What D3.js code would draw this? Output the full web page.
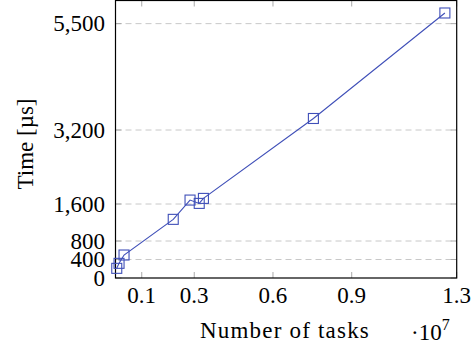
<!DOCTYPE html>
<html>
<head>
<meta charset="utf-8">
<script src="https://cdn.jsdelivr.net/npm/d3@7"></script>
<style>
  body { margin: 0; background: #fff; }
  text { font-family: "Liberation Serif", "DejaVu Serif", serif; fill: #000; }
</style>
</head>
<body>
<div class="container"></div>
<script>
// measured values (tasks, time in µs)
const tasks = [48000, 135000, 325000, 2200000, 2840000, 3190000, 3350000, 7540000, 12550000];
const times = [209, 317, 497, 1268, 1685, 1613, 1721, 3449, 5730];
const xTicks = [1000000, 3000000, 6000000, 9000000, 13000000];
const yTicks = [0, 400, 800, 1600, 3200, 5500];

const width = 473;
const height = 352;
const plotLeft = 115.5, plotRight = 456.7, plotTop = 0.5, plotBottom = 278;

const svg = d3.select('.container').append('svg').attr('width', width).attr('height', height);

const x = d3.scaleLinear().domain([0, 13000000]).range([plotLeft, plotRight]);
const y = d3.scaleLinear().domain([0, 6000]).range([plotBottom, plotTop]);

// dashed grid
svg.append('g').selectAll('line').data(yTicks.filter(d => d > 0)).enter().append('line')
    .attr('x1', plotLeft).attr('x2', plotRight)
    .attr('y1', d => y(d)).attr('y2', d => y(d))
    .attr('stroke', '#c8c8c8').attr('stroke-width', 1).attr('stroke-dasharray', '6,4');

// inner ticks on all sides
const tickLen = 6;
svg.append('g').selectAll('line').data(xTicks).enter().append('line')
    .attr('x1', d => x(d)).attr('x2', d => x(d)).attr('y1', plotBottom).attr('y2', plotBottom - tickLen)
    .attr('stroke', '#aaa').attr('stroke-width', 1);
svg.append('g').selectAll('line').data(xTicks).enter().append('line')
    .attr('x1', d => x(d)).attr('x2', d => x(d)).attr('y1', plotTop).attr('y2', plotTop + tickLen)
    .attr('stroke', '#aaa').attr('stroke-width', 1);
svg.append('g').selectAll('line').data(yTicks).enter().append('line')
    .attr('x1', plotLeft).attr('x2', plotLeft + tickLen).attr('y1', d => y(d)).attr('y2', d => y(d))
    .attr('stroke', '#aaa').attr('stroke-width', 1);
svg.append('g').selectAll('line').data(yTicks).enter().append('line')
    .attr('x1', plotRight).attr('x2', plotRight - tickLen).attr('y1', d => y(d)).attr('y2', d => y(d))
    .attr('stroke', '#aaa').attr('stroke-width', 1);

// frame
svg.append('rect').attr('x', plotLeft).attr('y', plotTop).attr('width', plotRight - plotLeft).attr('height', plotBottom - plotTop)
    .attr('fill', 'none').attr('stroke', '#000').attr('stroke-width', 1.2);

// tick labels
const fmtX = d => d3.format('.1f')(d / 1e7);
svg.append('g').selectAll('text').data(xTicks).enter().append('text')
    .attr('x', d => x(d)).attr('y', 302.5)
    .attr('text-anchor', 'middle').attr('font-size', 23)
    .text(fmtX);
svg.append('g').selectAll('text').data(yTicks).enter().append('text')
    .attr('x', plotLeft - 10.5).attr('y', d => y(d)).attr('dy', '0.33em')
    .attr('text-anchor', 'end').attr('font-size', 23)
    .text(d => d3.format(',')(d));

// axis labels
svg.append('text').attr('x', 285).attr('y', 338).attr('text-anchor', 'middle')
    .attr('font-size', 23).attr('letter-spacing', 1.2).text('Number of tasks');
const ex = svg.append('text').attr('x', 411).attr('y', 340).attr('font-size', 23);
ex.append('tspan').text('·10');
ex.append('tspan').attr('dy', -10).attr('font-size', 16).text('7');
svg.append('text').attr('transform', 'translate(33,144) rotate(-90)')
    .attr('text-anchor', 'middle').attr('font-size', 23).text('Time [µs]');

// series
const pts = tasks.map((t, i) => [t, times[i]]);
const line = d3.line().x(d => x(d[0])).y(d => y(d[1]));
svg.append('path').datum(pts).attr('d', line)
    .attr('fill', 'none').attr('stroke', '#3f4fb8').attr('stroke-width', 1.1);
const s = 10;
svg.append('g').selectAll('rect').data(pts).enter().append('rect')
    .attr('x', d => x(d[0]) - s / 2).attr('y', d => y(d[1]) - s / 2)
    .attr('width', s).attr('height', s)
    .attr('fill', 'none').attr('stroke', '#3f4fb8').attr('stroke-width', 1.1);
</script>
</body>
</html>
